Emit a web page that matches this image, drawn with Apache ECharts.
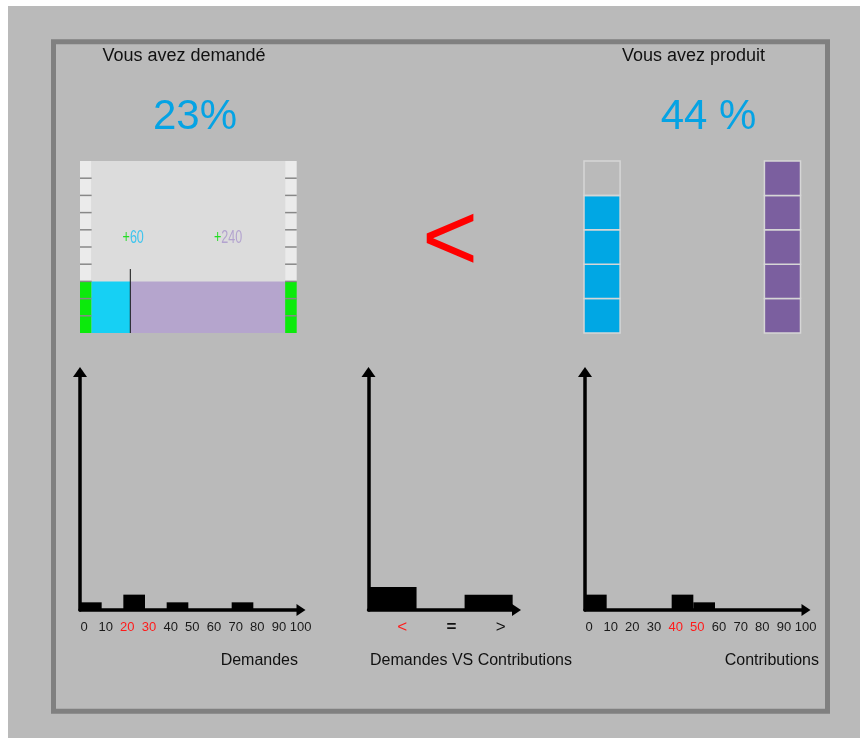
<!DOCTYPE html>
<html>
<head>
<meta charset="utf-8">
<title>Demandes VS Contributions</title>
<script src="https://cdn.jsdelivr.net/npm/echarts@6/dist/echarts.min.js"></script>
<style>
  html, body { margin: 0; padding: 0; background: #fff; }
  #chart { width: 860px; height: 738px; }
</style>
</head>
<body>
<div id="chart"></div>
<script>
// classes de 10 points (0 -> 100)
const binStarts = [0, 10, 20, 30, 40, 50, 60, 70, 80, 90];
const demandCounts = [1, 0, 2, 0, 1, 0, 0, 1, 0, 0];
const contribCounts = [2, 0, 0, 0, 2, 1, 0, 0, 0, 0];
const compareLabels = ['<', '=', '>'];
const compareCounts = [3, 0, 2];
const tickValues = [0, 10, 20, 30, 40, 50, 60, 70, 80, 90, 100];

const demandPct = 23;
const producedPct = 44;
const demandShares = [60, 240];  // +60 / +240
const demandLevel = 3;           // cases remplies sur 10
const demandSlots = 10;
const producedLevel = 4;         // cases remplies sur 5
const producedSlots = 5;

const FONT = '"Liberation Sans", Arial, sans-serif';

const chart = echarts.init(document.getElementById('chart'));

// donnees des histogrammes : [debut, fin, effectif]
const demandBins = binStarts.map((s, i) => [s, s + 10, demandCounts[i]]);
const contribBins = binStarts.map((s, i) => [s, s + 10, contribCounts[i]]);
const compareBins = compareLabels.map((c, i) => [i, i + 1, compareCounts[i]]);

// cases laterales du panneau "demande"
const sideBoxes = [];
[-18, 300].forEach(x0 => {
  for (let i = 0; i < demandSlots; i++) sideBoxes.push([x0, i, i < demandLevel ? 1 : 0]);
});
// colonnes du panneau "produit"
const producedBoxes = [];
const totalBoxes = [];
for (let i = 0; i < producedSlots; i++) {
  producedBoxes.push([0, i, i < producedLevel ? 1 : 0]);
  totalBoxes.push([5, i, 1]);
}
// parts demandees (cumul)
const shareParts = demandShares.map((v, i) => {
  const start = demandShares.slice(0, i).reduce((a, b) => a + b, 0);
  return [start, start + v, demandLevel];
});
const totalShare = demandShares.reduce((a, b) => a + b, 0);

function histRender(params, api) {
  const c = api.value(2);
  if (!c) return null;
  const p0 = api.coord([api.value(0), 0]);
  const p1 = api.coord([api.value(1), c]);
  return {
    type: 'rect',
    shape: { x: p0[0], y: p1[1], width: p1[0] - p0[0], height: p0[1] - p1[1] },
    style: { fill: '#000' }
  };
}

function tickFormatter(pct) {
  const lo = Math.floor(pct / 10) * 10;
  const hi = lo + 10;
  return function (v) {
    if (tickValues.indexOf(v) < 0) return '';
    return (v === lo || v === hi) ? '{r|' + v + '}' : '{n|' + v + '}';
  };
}

function histXAxis(gridIndex, pct) {
  return {
    gridIndex: gridIndex,
    type: 'value',
    min: 0,
    max: 102,
    interval: 10,
    axisLine: {
      show: true,
      symbol: ['none', 'triangle'],
      symbolSize: [12, 9],
      lineStyle: { color: '#000', width: 3.5 }
    },
    axisTick: { show: false },
    splitLine: { show: false },
    axisLabel: {
      margin: 11,
      padding: [0, 0, 0, 8],
      formatter: tickFormatter(pct),
      rich: {
        n: { color: '#1a1a1a', fontSize: 13, fontFamily: FONT },
        r: { color: '#ff1a1a', fontSize: 13, fontFamily: FONT }
      }
    }
  };
}

function histYAxis(gridIndex) {
  return {
    gridIndex: gridIndex,
    type: 'value',
    min: 0,
    max: 31,
    axisLine: {
      show: true,
      symbol: ['none', 'triangle'],
      symbolSize: [14, 10],
      lineStyle: { color: '#000', width: 3.5 }
    },
    axisTick: { show: false },
    axisLabel: { show: false },
    splitLine: { show: false }
  };
}

function boxRender(fillColor, emptyStroke) {
  return function (params, api) {
    const x0 = api.value(0);
    const i = api.value(1);
    const p0 = api.coord([x0, i]);
    const p1 = api.coord([x0 + 1, i + 1]);
    const filled = api.value(2) === 1;
    return {
      type: 'rect',
      shape: { x: p0[0], y: p1[1], width: p1[0] - p0[0], height: p0[1] - p1[1] },
      style: {
        fill: filled ? fillColor : 'rgba(0,0,0,0)',
        stroke: filled ? '#d6d6d6' : emptyStroke,
        lineWidth: 1.5
      }
    };
  };
}

const option = {
  animation: false,
  textStyle: { fontFamily: FONT },
  graphic: [
    { type: 'rect', z: -10, shape: { x: 8, y: 6, width: 852, height: 732 }, style: { fill: '#bababa' } },
    { type: 'rect', z: -9, shape: { x: 53.5, y: 41.8, width: 774, height: 669.5 },
      style: { fill: 'none', stroke: '#808080', lineWidth: 5 } },
    { type: 'text', x: 184, y: 56, style: { text: 'Vous avez demandé', fontSize: 18, fontFamily: FONT, fill: '#111', align: 'center', verticalAlign: 'middle' } },
    { type: 'text', x: 693.5, y: 56, style: { text: 'Vous avez produit', fontSize: 18, fontFamily: FONT, fill: '#111', align: 'center', verticalAlign: 'middle' } },
    { type: 'text', x: 195, y: 117, style: { text: demandPct + '%', fontSize: 42, fontFamily: FONT, fill: '#05a3e4', align: 'center', verticalAlign: 'middle' } },
    { type: 'text', x: 708.5, y: 117, style: { text: producedPct + ' %', fontSize: 42, fontFamily: FONT, fill: '#05a3e4', align: 'center', verticalAlign: 'middle' } },
    { type: 'text', x: 450, y: 244, style: { text: demandPct < producedPct ? '<' : '>', fontSize: 96, fontFamily: FONT, fill: '#ff0000', align: 'center', verticalAlign: 'middle' } },
    { type: 'text', x: 298, y: 661, style: { text: 'Demandes', fontSize: 16, fontFamily: FONT, fill: '#111', align: 'right', verticalAlign: 'middle' } },
    { type: 'text', x: 471, y: 661, style: { text: 'Demandes VS Contributions', fontSize: 16, fontFamily: FONT, fill: '#111', align: 'center', verticalAlign: 'middle' } },
    { type: 'text', x: 819, y: 661, style: { text: 'Contributions', fontSize: 16, fontFamily: FONT, fill: '#111', align: 'right', verticalAlign: 'middle' } }
  ],
  grid: [
    { left: 80, top: 161, width: 216.7, height: 172 },  // panneau demande
    { left: 584, top: 161, width: 216.5, height: 172 }, // panneau produit
    { left: 80, top: 372, width: 221, height: 238 },    // histo demandes
    { left: 368.5, top: 372, width: 148, height: 238 }, // histo comparaison
    { left: 585, top: 372, width: 221, height: 238 }    // histo contributions
  ],
  xAxis: [
    { gridIndex: 0, type: 'value', min: -18, max: 318, show: false },
    { gridIndex: 1, type: 'value', min: 0, max: 6, show: false },
    histXAxis(2, demandPct),
    {
      gridIndex: 3, type: 'value', min: 0, max: 3.08,
      axisLine: { show: true, symbol: ['none', 'triangle'], symbolSize: [12, 9], lineStyle: { color: '#000', width: 3.5 } },
      axisTick: { show: false }, axisLabel: { show: false }, splitLine: { show: false }
    },
    {
      gridIndex: 3, type: 'category', position: 'bottom', data: compareLabels,
      axisLine: { show: false }, axisTick: { show: false }, splitLine: { show: false },
      axisLabel: {
        margin: 9,
        padding: [0, 0, 0, 18],
        formatter: function (v) {
          if (v === '<') return '{r|' + v + '}';
          if (v === '=') return '{b|' + v + '}';
          return '{n|' + v + '}';
        },
        rich: {
          r: { color: '#ff1a1a', fontSize: 17, fontFamily: FONT },
          b: { color: '#111', fontSize: 17, fontWeight: 'bold', fontFamily: FONT },
          n: { color: '#111', fontSize: 17, fontFamily: FONT }
        }
      }
    },
    histXAxis(4, producedPct)
  ],
  yAxis: [
    { gridIndex: 0, type: 'value', min: 0, max: demandSlots, show: false },
    { gridIndex: 1, type: 'value', min: 0, max: producedSlots, show: false },
    histYAxis(2),
    histYAxis(3),
    histYAxis(4)
  ],
  series: [
    // fond du panneau demande
    {
      type: 'custom', xAxisIndex: 0, yAxisIndex: 0,
      data: [[0, totalShare]],
      renderItem: function (params, api) {
        const p0 = api.coord([api.value(0), 0]);
        const p1 = api.coord([api.value(1), demandSlots]);
        return {
          type: 'rect',
          shape: { x: p0[0], y: p1[1], width: p1[0] - p0[0], height: p0[1] - p1[1] },
          style: { fill: '#dcdcdc' }
        };
      }
    },
    // cases laterales
    {
      type: 'custom', xAxisIndex: 0, yAxisIndex: 0,
      data: sideBoxes,
      renderItem: function (params, api) {
        const x0 = api.value(0);
        const i = api.value(1);
        const p0 = api.coord([x0, i]);
        const p1 = api.coord([x0 + 18, i + 1]);
        const children = [{
          type: 'rect',
          shape: { x: p0[0], y: p1[1], width: p1[0] - p0[0], height: p0[1] - p1[1] },
          style: { fill: api.value(2) === 1 ? '#0cea0c' : '#ebebeb' }
        }];
        if (i > 0) {
          children.push({
            type: 'line',
            shape: { x1: p0[0], y1: p0[1], x2: p1[0], y2: p0[1] },
            style: { stroke: '#888', lineWidth: 1.5 }
          });
        }
        return { type: 'group', children: children };
      }
    },
    // parts demandees
    {
      type: 'custom', xAxisIndex: 0, yAxisIndex: 0,
      data: shareParts,
      renderItem: function (params, api) {
        const colors = ['#16d0f4', '#b5a5cd'];
        const p0 = api.coord([api.value(0), 0]);
        const p1 = api.coord([api.value(1), api.value(2)]);
        return {
          type: 'rect',
          shape: { x: p0[0], y: p1[1], width: p1[0] - p0[0], height: p0[1] - p1[1] },
          style: { fill: colors[params.dataIndex] }
        };
      }
    },
    // repere + etiquettes
    {
      type: 'custom', xAxisIndex: 0, yAxisIndex: 0,
      data: [[demandShares[0], demandLevel]],
      renderItem: function (params, api) {
        const x = api.value(0);
        const a = api.coord([x, 0]);
        const b = api.coord([x, api.value(1) + 0.72]);
        const t1 = api.coord([64.5, 5.55]);
        const t2 = api.coord([211.5, 5.55]);
        const textEl = function (pt, val, key) {
          return {
            type: 'text', x: pt[0], y: pt[1], scaleX: 0.66,
            style: {
              text: '{g|+}{' + key + '|' + val + '}',
              align: 'center', verticalAlign: 'middle',
              rich: {
                g: { fill: '#22dd22', fontSize: 19, fontFamily: FONT },
                c: { fill: '#3cc4ee', fontSize: 19, fontFamily: FONT },
                p: { fill: '#b3a3cf', fontSize: 19, fontFamily: FONT }
              }
            }
          };
        };
        return {
          type: 'group',
          children: [
            { type: 'line', shape: { x1: a[0], y1: a[1], x2: b[0], y2: b[1] }, style: { stroke: '#111', lineWidth: 1 } },
            textEl(t1, demandShares[0], 'c'),
            textEl(t2, demandShares[1], 'p')
          ]
        };
      }
    },
    // colonnes produit / total
    {
      type: 'custom', xAxisIndex: 1, yAxisIndex: 1,
      data: producedBoxes,
      renderItem: boxRender('#00a7e4', '#d6d6d6')
    },
    {
      type: 'custom', xAxisIndex: 1, yAxisIndex: 1,
      data: totalBoxes,
      renderItem: boxRender('#7b5f9f', '#d6d6d6')
    },
    // histogrammes
    { type: 'custom', xAxisIndex: 2, yAxisIndex: 2, data: demandBins, renderItem: histRender },
    { type: 'custom', xAxisIndex: 3, yAxisIndex: 3, data: compareBins, renderItem: histRender },
    { type: 'custom', xAxisIndex: 5, yAxisIndex: 4, data: contribBins, renderItem: histRender }
  ]
};

chart.setOption(option);
</script>
</body>
</html>
